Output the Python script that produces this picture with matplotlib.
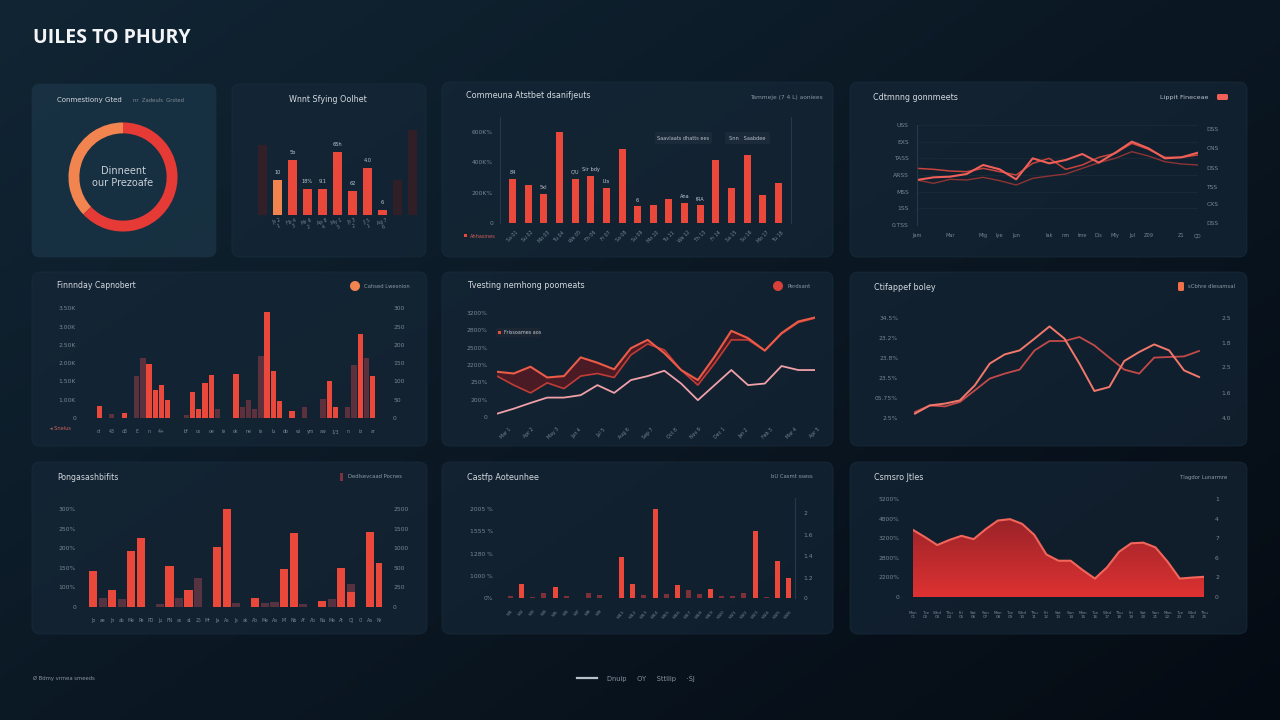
import numpy as np
import matplotlib.pyplot as plt
from matplotlib.patches import FancyBboxPatch, Circle, Rectangle

W, H = 1280, 720

RED = '#e9483b'
ORANGE = '#f2854f'
DARK = '#5e2c36'
TXT = '#d3d9df'
TICK = '#7b8793'
LINE = '#26394a'

# ---------------- data ----------------
main_title = "UILES TO PHURY"

donut_share = [37, 63]
donut_text = "Dinneent\nour Prezoafe"

wsc_labels = ["", "Jn 2\n1", "Fb 4\n3", "Mr 6\n2", "Ap 8\n4", "My 1\n5", "Jn 3\n2", "Jl 5\n1", "Ag 7\n6", "", ""]
wsc_main = [0, 35, 55, 26, 26, 63, 24, 47, 5, 0, 0]
wsc_shadow = [70, 0, 0, 0, 0, 0, 0, 0, 0, 35, 85]
wsc_tags = ["", "10", "5b", "18%", "9.1", "65h", "62", "4.0", "6", "", ""]

cab_labels = ["Sa 01", "Su 02", "Mo 03", "Tu 04", "We 05", "Th 06", "Fr 07", "Sa 08", "Su 09",
              "Mo 10", "Tu 11", "We 12", "Th 13", "Fr 14", "Sa 15", "Su 16", "Mo 17", "Tu 18"]
cab_values = [292, 248, 193, 600, 292, 310, 233, 486, 110, 116, 156, 132, 116, 413, 233, 450, 182, 264]
cab_tags = ["84", "", "5xl", "", "C/U", "Sir bdy", "Lts", "", "6", "", "", "Ana", "tRA", "", "", "", "", ""]
cab_yticks = [0, 200, 400, 600]
cab_yticklabels = ["0", "200K%", "400K%", "600K%"]

cpm_labels = ["Jam", "", "Mar", "", "Mig", "lye", "Jun", "", "lak", "nm", "Ime", "Dis", "Mly", "Jul",
              "Z09", "", "Z1", "QD"]
cpm_a = [2.7, 2.86, 2.9, 3.06, 3.6, 3.34, 2.74, 4.0, 3.7, 3.9, 4.26, 3.74, 4.34, 5.0, 4.6, 4.0, 4.06, 4.34]
cpm_b = [3.4, 3.34, 3.24, 3.2, 3.4, 3.2, 3.0, 3.7, 4.0, 3.34, 3.6, 4.06, 4.3, 4.9, 4.54, 4.06, 4.06, 4.2]
cpm_c = [2.7, 2.5, 2.74, 2.7, 2.86, 2.66, 2.4, 2.8, 2.94, 3.06, 3.4, 3.74, 4.0, 4.4, 4.14, 3.8, 3.66, 3.6]
cpm_left = ["0.TSS", "1SS", "MSS", "ARSS", "TASS", "EXS", "USS"]
cpm_right_pos = [0.14, 1.24, 2.3, 3.4, 4.6, 5.74]
cpm_right = ["DSS", "CXS", "TSS", "DSS", "CNS", "DSS"]

fin_labels = ["d'", "", "43", "", "d3", "", "E", "", "n", "", "4+", "", "", "", "bf", "", "os",
              "", "oe", "", "ie", "", "ok", "", "ne", "", "ie", "", "lu", "", "do", "", "wi",
              "", "ym", "", "aw", "", "1/3", "", "n", "", "io", "", "ar"]
fin_red = [0.68, 0, 0, 0, 0.28, 0, 0, 0, 2.94, 1.56,
           1.83, 0.97, 0, 0, 0, 1.42, 0.50, 1.93, 2.33, 0,
           0, 0, 2.39, 0, 0, 0, 0, 5.78, 2.57, 0.92,
           0, 0.37, 0, 0, 0, 0, 0, 2.02, 0.61, 0,
           0, 0, 4.59, 0, 2.29]
fin_dark = [0, 0, 0.24, 0, 0, 0, 2.29, 3.30, 0, 0,
            0, 0, 0, 0, 0.18, 0, 0, 0, 0, 0.50,
            0, 0, 0, 0.61, 0.97, 0.50, 3.39, 0, 0, 0,
            0, 0, 0, 0.61, 0, 0, 1.05, 0, 0, 0,
            0.61, 2.9, 0, 3.30, 0]
fin_left = ["0", "1.00K", "1.50K", "2.00K", "2.50K", "3.00K", "3.50K"]
fin_right = ["0", "50", "100", "150", "200", "250", "300"]

tnp_labels = ["Mar 1", "Apr 2", "May 3", "Jun 4", "Jul 5", "Aug 6", "Sep 7", "Oct 8", "Nov 9",
              "Dec 1", "Jan 2", "Feb 3", "Mar 4", "Apr 5"]
tnp_a = [2.61, 2.51, 2.90, 2.28, 2.36, 3.44, 3.13, 2.75, 3.97, 4.45,
         3.68, 2.71, 2.13, 3.48, 4.97, 4.55, 3.83, 4.84, 5.51, 5.74]
tnp_b = [2.36, 1.84, 1.39, 1.97, 1.64, 2.36, 2.51, 2.28, 3.58, 4.22,
         3.87, 2.71, 1.84, 3.09, 4.45, 4.45, 3.83, 4.80, 5.45, 5.71]
tnp_c = [0.19, 0.48, 0.81, 1.12, 1.12, 1.26, 1.84, 1.39, 2.13, 2.36,
         2.67, 1.93, 0.97, 1.84, 2.71, 1.84, 1.93, 2.94, 2.71, 2.71]
tnp_left = ["0", "200%", "250%", "2200%", "2500%", "2800%", "3200%"]

ctb_a = [0.22, 0.63, 0.72, 0.88, 1.63, 2.72, 3.18, 3.38, 3.97, 4.58,
         3.97, 2.72, 1.35, 1.55, 2.85, 3.30, 3.68, 3.38, 2.38, 2.05]
ctb_b = [0.30, 0.63, 0.58, 0.80, 1.38, 1.97, 2.22, 2.42, 3.38, 3.85,
         3.85, 4.05, 3.63, 3.02, 2.42, 2.22, 3.02, 3.05, 3.08, 3.35]
ctb_left = ["2.5%", "05.75%", "23.5%", "23.8%", "23.2%", "34.5%"]
ctb_right_pos = [0, 1.27, 2.55, 3.75, 5]
ctb_right = ["4.0", "1.6", "2.5", "1.8", "2.5"]

pgs_labels = ["Jo", "ae", "Jn", "ab", "Me", "Pe", "PD", "Ju", "FN", "as", "at", "25", "Mr", "Ja",
              "As", "Js", "ak", "Ab", "Me", "Aa", "Mi", "Nb", "Af", "Ab", "Nu", "Me", "At",
              "OJ", "Ci", "Aa", "Nr"]
pgs_red = [1.85, 0, 0.89, 0, 2.87, 3.50, 0, 0, 2.09, 0,
           0.89, 0, 0, 3.05, 4.99, 0, 0, 0.48, 0, 0,
           1.95, 3.76, 0, 0, 0.31, 0, 1.97, 0.77, 0, 3.83, 2.22]
pgs_dark = [0, 0.48, 0, 0.41, 0, 0, 0, 0.14, 0, 0.46,
            0, 1.50, 0, 0, 0, 0.21, 0, 0, 0.21, 0.27,
            0, 0, 0.17, 0, 0, 0.41, 0, 1.16, 0, 0, 0]
pgs_left = ["0", "100%", "150%", "200%", "250%", "300%"]
pgs_right = ["0", "250", "500", "1000", "1500", "2500"]

caa_labels = ["W1", "W2", "W3", "W4", "W5", "W6", "W7", "W8", "W9", "", "W11", "W12", "W13",
              "W14", "W15", "W16", "W17", "W18", "W19", "W20", "W21", "W22", "W23", "W24", "W25", "W26"]
caa_values = [0.10, 0.63, 0.04, 0.22, 0.49, 0.07, 0.02, 0.22, 0.13, 0, 1.84, 0.63, 0.15,
              4.0, 0.18, 0.58, 0.34, 0.16, 0.40, 0.07, 0.10, 0.22, 3.0, 0.04, 1.66, 0.90]
caa_left = ["0%", "1000 %", "1280 %", "1555 %", "2005 %"]
caa_right_pos = [0, 0.9, 1.87, 2.85, 3.82]
caa_right = ["0", "1.2", "1.4", "1.6", "2"]

cjs_labels = ["Mon\n01", "Tue\n02", "Wed\n03", "Thu\n04", "Fri\n05", "Sat\n06", "Sun\n07",
              "Mon\n08", "Tue\n09", "Wed\n10", "Thu\n11", "Fri\n12", "Sat\n13", "Sun\n14",
              "Mon\n15", "Tue\n16", "Wed\n17", "Thu\n18", "Fri\n19", "Sat\n20", "Sun\n21",
              "Mon\n22", "Tue\n23", "Wed\n24", "Thu\n25"]
cjs_values = [3.42, 3.05, 2.65, 2.91, 3.12, 2.95, 3.46, 3.90, 3.97, 3.73, 3.17, 2.17, 1.85,
              1.85, 1.37, 0.94, 1.51, 2.31, 2.74, 2.77, 2.53, 1.80, 0.94, 0.99, 1.03]
cjs_left = ["0", "2200%", "2800%", "3200%", "4800%", "5200%"]
cjs_right = ["0", "2", "6", "7", "4", "1"]


# ---------------- helpers ----------------
def px_axes(fig, x0, y0, x1, y1):
    return fig.add_axes([x0 / W, 1 - y1 / H, (x1 - x0) / W, (y1 - y0) / H])


def clean(ax, pad=5):
    ax.set_facecolor('none')
    for s in ax.spines.values():
        s.set_visible(False)
    ax.tick_params(colors=TICK, labelsize=4.3, length=0, pad=pad)


def right_labels(ax, ticks, labels, pad=8):
    r = ax.twinx()
    r.set_ylim(ax.get_ylim())
    r.set_yticks(ticks)
    r.set_yticklabels(labels)
    clean(r, pad)
    return r


def panel(bg, x0, y0, x1, y1, fc='#17293a', alpha=0.6):
    box = FancyBboxPatch((x0, y0), x1 - x0, y1 - y0,
                         boxstyle='round,pad=0,rounding_size=8',
                         fc=fc, ec='#1d3142', lw=0.6, alpha=alpha, zorder=1)
    bg.add_patch(box)


def ptitle(bg, x, y, s, ha='left', size=6.2, color=TXT):
    bg.text(x, y, s, ha=ha, va='center', fontsize=size, color=color, zorder=3)


# ---------------- figure ----------------
fig = plt.figure(figsize=(12.8, 7.2), dpi=100)
bg = fig.add_axes([0, 0, 1, 1])
bg.set_xlim(0, W)
bg.set_ylim(H, 0)
bg.axis('off')

yy, xx = np.mgrid[0:1:200j, 0:1:360j]
t = np.clip(0.55 * xx + 0.45 * yy, 0, 1)
c0 = np.array([17, 37, 52]) / 255
c1 = np.array([5, 11, 19]) / 255
bg.imshow(c0 + (c1 - c0) * t[..., None], extent=[0, W, H, 0], aspect='auto', zorder=0)

bg.text(33, 38, main_title, fontsize=14, fontweight='bold', family='Open Sans',
        color='#f2f4f6', va='center', zorder=3)

panel(bg, 32, 84, 216, 257, fc='#1b3648', alpha=0.75)
panel(bg, 232, 84, 426, 257)
panel(bg, 442, 82, 833, 257)
panel(bg, 850, 82, 1247, 257)
panel(bg, 32, 272, 427, 446)
panel(bg, 442, 272, 833, 446)
panel(bg, 850, 272, 1247, 446)
panel(bg, 32, 462, 427, 634)
panel(bg, 442, 462, 833, 634)
panel(bg, 850, 462, 1247, 634)

# ---- A: donut ----
ptitle(bg, 57, 100, "Conmestiony Gted", size=5.0)
ptitle(bg, 133, 100, "nr  Zadeuls  Grsted", size=3.8, color='#7f8b96')
ax = px_axes(fig, 63, 117, 183, 237)
ax.pie(donut_share, colors=[ORANGE, '#e53a35'], startangle=90, counterclock=True,
       radius=1, wedgeprops=dict(width=0.2, edgecolor='none'))
ax.set_xlim(-1.1, 1.1)
ax.set_ylim(-1.1, 1.1)
ax.text(0, 0, donut_text, ha='center', va='center', fontsize=7, color='#c8d0d8', linespacing=1.3)

# ---- B: small bars ----
ptitle(bg, 328, 99, "Wnnt Sfying Oolhet", ha='center', size=5.8)
ax = px_axes(fig, 255, 115, 420, 215)
clean(ax, 2)
xb = np.arange(len(wsc_main))
ax.bar(xb, wsc_shadow, width=0.6, color='#3a1e26', alpha=0.8)
ax.bar(xb, wsc_main, width=0.6, color=[ORANGE if i == 1 else RED for i in xb])
for i in xb:
    if wsc_tags[i]:
        ax.text(i, wsc_main[i] + 5, wsc_tags[i], ha='center', va='bottom', fontsize=3.6, color='#c0c8d0')
ax.set_xlim(-0.5, 10.5)
ax.set_ylim(0, 100)
ax.set_yticks([])
ax.set_xticks(xb)
ax.set_xticklabels(wsc_labels, fontsize=3.3, rotation=20, linespacing=1.0)

# ---- C: bars ----
ptitle(bg, 466, 96, "Commeuna Atstbet dsanifjeuts", size=5.8)
ptitle(bg, 750, 97, "Tammeje (7 4 L) aoniees", size=4.2, color='#8a96a2')
ax = px_axes(fig, 500, 117, 791, 223)
clean(ax, 5)
ax.spines['left'].set_visible(True)
ax.spines['right'].set_visible(True)
ax.spines['left'].set_color(LINE)
ax.spines['right'].set_color(LINE)
xc = np.arange(len(cab_values))
ax.bar(xc, cab_values, width=0.45, color=RED)
for i in xc:
    if cab_tags[i]:
        ax.text(i, cab_values[i] + 25, cab_tags[i], ha='center', va='bottom', fontsize=3.6, color='#c0c8d0')
ax.set_xlim(-0.8, 17.8)
ax.set_ylim(0, 700)
ax.set_yticks(cab_yticks)
ax.set_yticklabels(cab_yticklabels)
ax.set_xticks(xc)
ax.set_xticklabels(cab_labels, rotation=45, fontsize=3.4)
for x0, x1, s in [(655, 712, "Saavlaats dhatts ees"), (725, 770, "Snn   Saabdee")]:
    bg.add_patch(FancyBboxPatch((x0, 132), x1 - x0, 12, boxstyle='round,pad=0,rounding_size=2',
                                fc='#1b2a38', ec='none', zorder=2))
    bg.text((x0 + x1) / 2, 138, s, ha='center', va='center', fontsize=3.6, color='#b4bec8', zorder=3)
bg.add_patch(Rectangle((464, 234), 3, 3, fc=RED, zorder=3))
bg.text(470, 236, "Ahhasines", fontsize=3.6, color='#d0605a', va='center', zorder=3)

# ---- D: lines ----
ptitle(bg, 873, 97, "Cdtmnng gonnmeets", size=5.8)
ptitle(bg, 1208, 97, "Lippit Fineceae", ha='right', size=4.6, color='#b8c2cc')
bg.add_patch(FancyBboxPatch((1217, 94), 11, 6, boxstyle='round,pad=0,rounding_size=1.5',
                            fc='#f06058', ec='none', zorder=3))
ax = px_axes(fig, 917, 125, 1198, 225)
clean(ax, 6)
ax.spines['left'].set_visible(True)
ax.spines['left'].set_color(LINE)
xd = np.arange(len(cpm_a))
ax.set_yticks(range(7))
ax.set_yticklabels(cpm_left)
ax.grid(axis='y', color='#1a2a38', lw=0.6)
ax.plot(xd, cpm_c, color='#8e3434', lw=1.0)
ax.plot(xd, cpm_b, color='#c8443c', lw=1.1)
ax.plot(xd, cpm_a, color='#f06058', lw=1.5)
ax.set_xlim(0, 17)
ax.set_ylim(0, 6)
ax.set_xticks(xd)
ax.set_xticklabels(cpm_labels, fontsize=3.6)
right_labels(ax, cpm_right_pos, cpm_right, pad=6)

# ---- E: paired bars ----
ptitle(bg, 57, 286, "Finnnday Capnobert", size=5.6)
bg.add_patch(Circle((355, 286), 5, fc=ORANGE, ec='none', zorder=3))
ptitle(bg, 364, 286, "Cahsed Lwesnion", size=3.8, color='#8e9aa6')
ax = px_axes(fig, 87, 303, 382, 418)
clean(ax, 8)
xe = np.arange(len(fin_red))
ax.bar(xe, fin_dark, width=0.85, color='#6a3440', alpha=0.85)
ax.bar(xe, fin_red, width=0.85, color=RED)
ax.set_xlim(-2, 45.5)
ax.set_ylim(0, 6.3)
ax.set_yticks(range(7))
ax.set_yticklabels(fin_left)
ax.set_xticks(xe)
ax.set_xticklabels(fin_labels, fontsize=3.4)
right_labels(ax, range(7), fin_right, pad=8)
bg.text(50, 429, "\u25c2 Snelus", fontsize=3.6, color='#d0605a', va='center', zorder=3)

# ---- F: band lines ----
ptitle(bg, 467, 286, "Tvesting nemhong poomeats", size=5.8)
bg.add_patch(Circle((778, 286), 5, fc='#d8403a', ec='none', zorder=3))
ptitle(bg, 787, 286, "Perdsant", size=3.8, color='#8e9aa6')
ax = px_axes(fig, 497, 313, 815, 417)
clean(ax, 7)
xf = np.arange(len(tnp_a))
ax.fill_between(xf, tnp_a, tnp_b, color='#5a1a22', alpha=0.8, lw=0)
ax.plot(xf, tnp_b, color='#c03c36', lw=1.2)
ax.plot(xf, tnp_a, color='#ec5a48', lw=1.5)
ax.plot(xf, tnp_c, color='#f0a0a8', lw=1.3)
ax.set_xlim(0, 19)
ax.set_ylim(0, 6)
ax.set_yticks(range(7))
ax.set_yticklabels(tnp_left)
ax.set_xticks(np.linspace(0.5, 19, len(tnp_labels)))
ax.set_xticklabels(tnp_labels, rotation=45, fontsize=3.4)
bg.add_patch(FancyBboxPatch((496, 328), 44, 9, boxstyle='round,pad=0,rounding_size=2',
                            fc='#1b2632', ec='none', zorder=2))
bg.add_patch(Rectangle((498, 331), 3, 3, fc='#e0503e', zorder=3))
bg.text(504, 332.5, "Frissoames aos", fontsize=3.5, color='#c0c8d0', va='center', zorder=3)

# ---- G: two lines ----
ptitle(bg, 874, 287, "Ctifappef boley", size=5.8)
bg.add_patch(FancyBboxPatch((1178, 282), 6, 9, boxstyle='round,pad=0,rounding_size=1.5',
                            fc='#f07048', ec='none', zorder=3))
ptitle(bg, 1188, 287, "sCbhre dlesamsal", size=3.8, color='#8e9aa6')
ax = px_axes(fig, 912, 318, 1202, 418)
clean(ax, 10)
xg = np.arange(len(ctb_a))
ax.plot(xg, ctb_b, color='#c44a4a', lw=1.3)
ax.plot(xg, ctb_a, color='#f2786c', lw=1.4)
ax.set_xlim(-0.2, 19.2)
ax.set_ylim(0, 5)
ax.set_xticks([])
ax.set_yticks(range(6))
ax.set_yticklabels(ctb_left)
right_labels(ax, ctb_right_pos, ctb_right, pad=14)

# ---- H: bars ----
ptitle(bg, 57, 477, "Pongasashbifits", size=5.6)
bg.add_patch(Rectangle((340, 473), 3, 8, fc='#7a3440', zorder=3))
ptitle(bg, 348, 477, "Dedlsevcaad Pocnes", size=3.8, color='#8e9aa6')
ax = px_axes(fig, 87, 505, 382, 607)
clean(ax, 8)
xh = np.arange(len(pgs_red))
ax.bar(xh, pgs_dark, width=0.85, color='#5e3542', alpha=0.9)
ax.bar(xh, pgs_red, width=0.85, color=RED)
ax.set_xlim(-0.63, 30.25)
ax.set_ylim(0, 5.2)
ax.set_yticks(range(6))
ax.set_yticklabels(pgs_left)
ax.set_xticks(xh)
ax.set_xticklabels(pgs_labels, fontsize=3.3)
right_labels(ax, range(6), pgs_right, pad=8)

# ---- I: bars ----
ptitle(bg, 467, 477, "Castfp Aoteunhee", size=5.8)
ptitle(bg, 813, 477, "bU Casmt ssess", ha='right', size=3.8, color='#8e9aa6')
ax = px_axes(fig, 504, 498, 795, 598)
clean(ax, 8)
ax.spines['right'].set_visible(True)
ax.spines['right'].set_color(LINE)
xi = np.arange(len(caa_values))
icol = [RED if v >= 0.35 else '#7e3038' for v in caa_values]
ax.bar(xi, caa_values, width=0.45, color=icol)
ax.set_xlim(-0.6, 25.6)
ax.set_ylim(0, 4.5)
ax.set_yticks(range(5))
ax.set_yticklabels(caa_left)
ax.set_xticks(xi)
ax.set_xticklabels(caa_labels, rotation=50, fontsize=3.2)
right_labels(ax, caa_right_pos, caa_right, pad=6)

# ---- J: gradient area ----
ptitle(bg, 874, 477, "Csmsro Jtles", size=5.8)
ptitle(bg, 1227, 477, "Tlagdor Lunarmre", ha='right', size=3.8, color='#8e9aa6')
ax = px_axes(fig, 913, 497, 1204, 597)
clean(ax, 10)
xj = np.arange(len(cjs_values))
poly = ax.fill_between(xj, 0, cjs_values, color='none', lw=0)
grad = np.linspace(0, 1, 100)[:, None]
top = np.array([150, 34, 40]) / 255
bot = np.array([222, 50, 50]) / 255
gimg = top + (bot - top) * grad[..., None]
im = ax.imshow(gimg, extent=[0, len(xj) - 1, 0, 4.2], origin='upper', aspect='auto')
im.set_clip_path(poly.get_paths()[0], transform=ax.transData)
ax.plot(xj, cjs_values, color='#f2655a', lw=1.5)
ax.set_xlim(0, len(xj) - 1)
ax.set_ylim(0, 5.1)
ax.set_yticks(range(6))
ax.set_yticklabels(cjs_left)
ax.set_xticks(xj)
ax.set_xticklabels(cjs_labels, fontsize=3.0, linespacing=1.0)
right_labels(ax, range(6), cjs_right, pad=8)

# ---- footer ----
bg.text(33, 678, "\u00d8 Bdmy vrmea smeeds", fontsize=3.8, color='#8a96a2', va='center', zorder=3)
bg.plot([577, 597], [678, 678], color='#b8c0c8', lw=1.6, zorder=3)
bg.text(607, 678, "Dnuip     OY     Sttllip     \u00b7\u015aJ", fontsize=4.8, color='#8a96a2',
        va='center', zorder=3)

fig.savefig('out.png', dpi=100, facecolor='#07111b')
